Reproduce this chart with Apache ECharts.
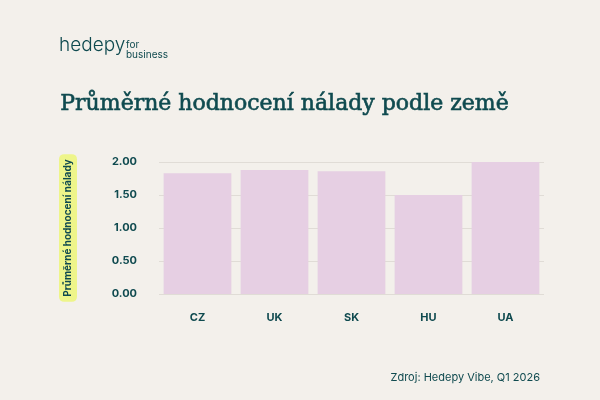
<!DOCTYPE html><html><head><meta charset="utf-8"><script src="https://cdn.jsdelivr.net/npm/echarts@6/dist/echarts.min.js"></script>
<style>body{margin:0;background:#f3f0eb}#c{width:600px;height:400px}</style></head><body><div id="c"></div><script>
const categories=['CZ','UK','SK','HU','UA'];
const values=[1.83,1.88,1.86,1.50,2.00];
const c=echarts.init(document.getElementById('c'));
const dk='#0f4a4f';
c.setOption({backgroundColor:'#f3f0eb',
graphic:[
{type:'text',left:59,top:36,style:{text:'hedepy',font:'300 19px Inter',fill:dk}},
{type:'text',left:126,top:40,style:{text:'for\nbusiness',font:'400 10px Inter',fill:dk,lineHeight:10}},
{type:'text',left:60,top:93,style:{text:'Průměrné hodnocení nálady podle země',font:'400 22px "DejaVu Serif"',fill:dk,stroke:dk,lineWidth:0.6}},
{type:'text',right:60,top:372,style:{text:'Zdroj: Hedepy Vibe, Q1 2026',font:'400 11px Inter',fill:dk}}
],
grid:{left:159,right:56,top:162,bottom:106},
xAxis:{type:'category',data:categories,axisLine:{show:false},axisTick:{show:false},axisLabel:{color:dk,fontWeight:'bold',fontSize:11,fontFamily:'Inter',margin:18}},
yAxis:{type:'value',min:0,max:2,interval:0.5,axisLabel:{color:dk,fontWeight:'bold',fontSize:11,fontFamily:'Inter',formatter:v=>v.toFixed(2),margin:22},
splitLine:{lineStyle:{color:'#e0dcd6'}},
name:'Průměrné hodnocení nálady',nameLocation:'middle',nameRotate:90,nameGap:82,
nameTextStyle:{color:dk,fontWeight:'bold',fontSize:10,fontFamily:'Inter',backgroundColor:'#eef58a',borderRadius:5,padding:[4,5]}},
series:[{type:'bar',data:values,barCategoryGap:'12%',itemStyle:{color:'#e6cfe3'}}]
});
</script></body></html>
